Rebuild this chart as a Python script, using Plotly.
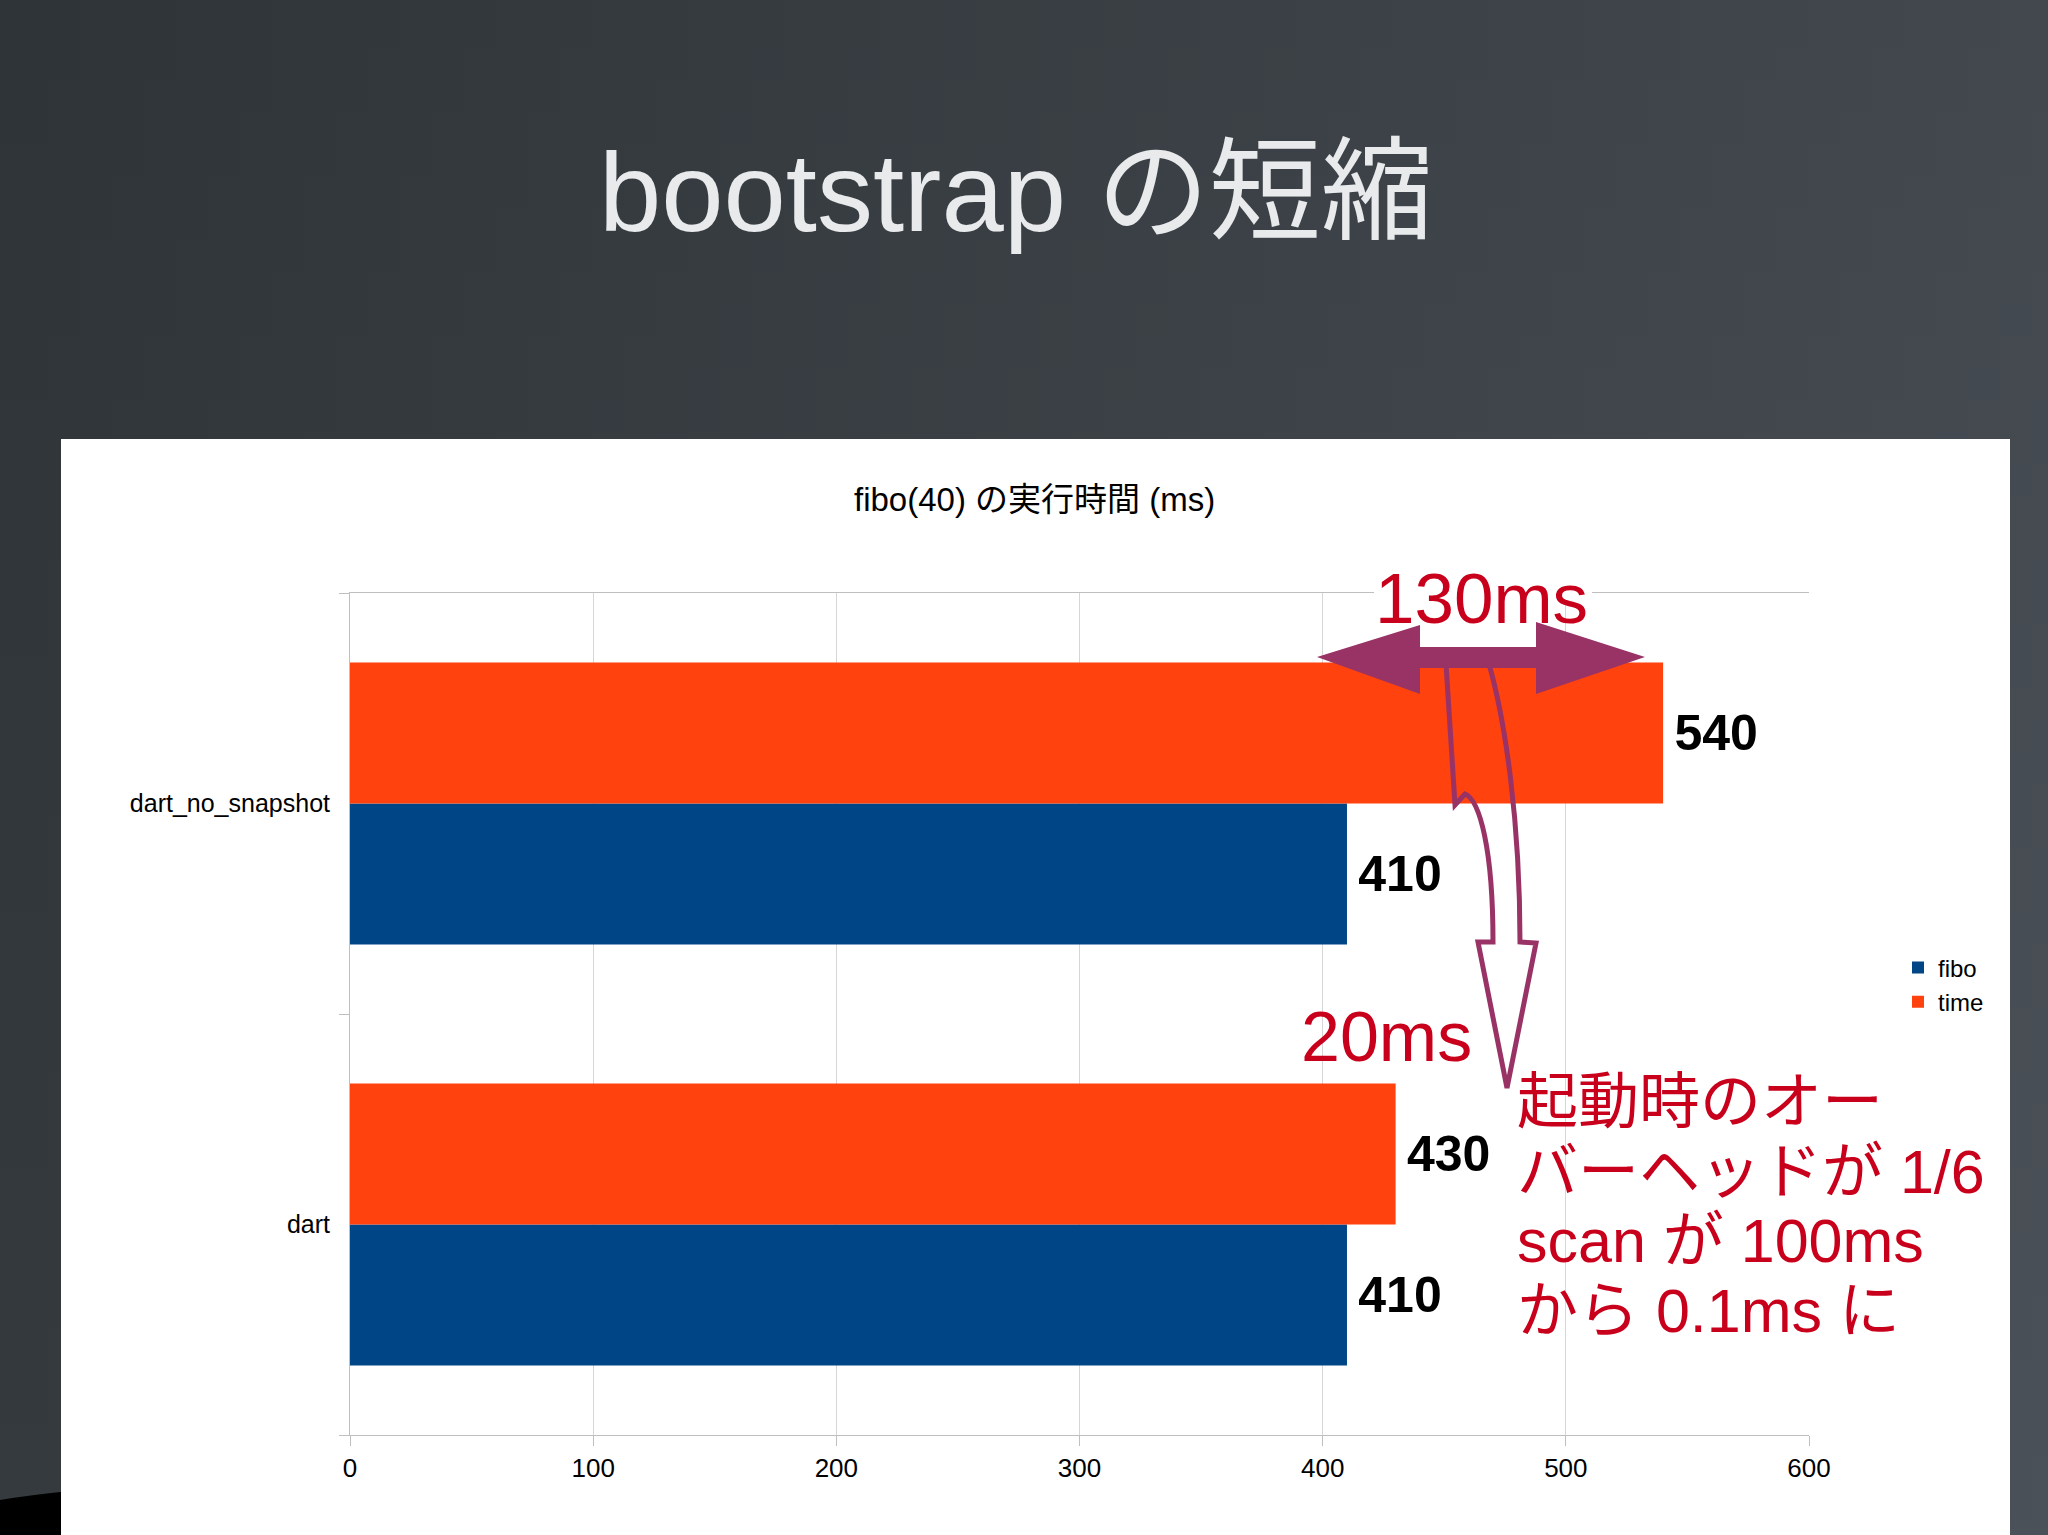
import base64
import struct
import zlib
import plotly.graph_objects as go

# ---------------- data ----------------
categories = ["dart", "dart_no_snapshot"]
fibo_values = [410, 410]
time_values = [430, 540]
x_tick_values = [0, 100, 200, 300, 400, 500, 600]

slide_title = "bootstrap の短縮"
chart_title = "fibo(40) の実行時間 (ms)"
note_130 = "130ms"
note_20 = "20ms"
note_lines = ["起動時のオー", "バーヘッドが 1/6", "scan が 100ms", "から 0.1ms に"]

# ---------------- geometry helpers ----------------
W, H = 2048, 1535
ML, MR, MT, MB = 350, 239, 593, 100
PW, PH = W - ML - MR, H - MT - MB


def px(x):
    return (x - ML) / PW


def py(y):
    return (H - MB - y) / PH


GROUP = {"M": 1, "L": 1, "Q": 2, "C": 3}


def path(points, close=True):
    s = ""
    for cmd, pts in points:
        n = GROUP[cmd]
        for k in range(0, len(pts), n):
            grp = pts[k:k + n]
            s += cmd + " " + " ".join(f"{px(a):.5f},{py(b):.5f}" for a, b in grp) + " "
    return s + ("Z" if close else "")


def gradient_png(w, h, tl, tr, bl, br):
    raw = bytearray()
    for j in range(h):
        fy = j / (h - 1)
        raw.append(0)
        for i in range(w):
            fx = i / (w - 1)
            for k in range(3):
                top = tl[k] * (1 - fx) + tr[k] * fx
                bot = bl[k] * (1 - fx) + br[k] * fx
                raw.append(int(round(top * (1 - fy) + bot * fy)))

    def chunk(t, d):
        return struct.pack(">I", len(d)) + t + d + struct.pack(">I", zlib.crc32(t + d) & 0xFFFFFFFF)

    png = (b"\x89PNG\r\n\x1a\n"
           + chunk(b"IHDR", struct.pack(">IIBBBBB", w, h, 8, 2, 0, 0, 0))
           + chunk(b"IDAT", zlib.compress(bytes(raw)))
           + chunk(b"IEND", b""))
    return "data:image/png;base64," + base64.b64encode(png).decode()


BLUE = "#004586"
ORANGE = "#ff420e"
RED = "#c9001c"
PURPLE = "#993366"
GRID = "#d6d6d6"
AXIS = "#bfbfbf"
FONT = "Liberation Sans, Arial, Noto Sans CJK JP, sans-serif"

fig = go.Figure()
for name, vals, color in (("fibo", fibo_values, BLUE), ("time", time_values, ORANGE)):
    fig.add_trace(go.Bar(
        name=name, y=categories, x=vals, orientation="h",
        marker=dict(color=color, line=dict(width=0)),
        text=vals, texttemplate="\u2006%{x}", textposition="outside",
        constraintext="none", cliponaxis=False,
        textfont=dict(family=FONT, size=50, color="black", weight="bold"),
        hoverinfo="x+y+name",
    ))

bg = gradient_png(64, 48, (0x2e, 0x34, 0x37), (0x42, 0x48, 0x4e), (0x34, 0x3a, 0x3e), (0x4b, 0x51, 0x58))

shapes = [
    # black corner bottom-left
    dict(type="path", xref="paper", yref="paper", layer="below",
         path=path([("M", [(0, 1500)]), ("Q", [(30, 1495), (70, 1491)]), ("L", [(70, 1540), (0, 1540)])]),
         fillcolor="black", line=dict(width=0)),
    # white chart panel
    dict(type="rect", xref="paper", yref="paper", layer="below",
         x0=px(61), x1=px(2010), y0=py(439), y1=py(1540),
         fillcolor="white", line=dict(width=0)),
    # mask behind 130ms text
    dict(type="rect", xref="paper", yref="paper", layer="above",
         x0=px(1374), x1=px(1592), y0=py(588), y1=py(600),
         fillcolor="white", line=dict(width=0)),
    # double headed arrow
    dict(type="path", xref="paper", yref="paper", layer="above",
         path=path([("M", [(1317, 657)]),
                    ("L", [(1420, 625), (1420, 647), (1536, 647), (1536, 622), (1645, 657),
                           (1536, 694), (1536, 668), (1420, 668), (1420, 694)])]),
         fillcolor=PURPLE, line=dict(width=0)),
    # curved outline arrow
    dict(type="path", xref="paper", yref="paper", layer="above",
         path=path([("M", [(1446, 664)]),
                    ("L", [(1455, 805), (1465, 794)]),
                    ("C", [(1480, 800), (1493, 850), (1493, 942)]),
                    ("L", [(1478, 942), (1507, 1088), (1536, 943), (1520, 942)]),
                    ("C", [(1520, 820), (1505, 720), (1489, 664)])]),
         fillcolor="rgba(0,0,0,0)", line=dict(color=PURPLE, width=5)),
]

annotations = [
    dict(text=slide_title, xref="paper", yref="paper", x=px(1016), y=py(192),
         xanchor="center", yanchor="middle", showarrow=False,
         font=dict(family=FONT, size=112, color="#e8eaec")),
    dict(text=chart_title, xref="paper", yref="paper", x=px(1034), y=py(499),
         xanchor="center", yanchor="middle", showarrow=False,
         font=dict(family=FONT, size=33, color="black")),
    dict(text=note_130, xref="paper", yref="paper", x=px(1481), y=py(598),
         xanchor="center", yanchor="middle", showarrow=False,
         font=dict(family=FONT, size=71, color=RED)),
    dict(text=note_20, xref="paper", yref="paper", x=px(1386), y=py(1037),
         xanchor="center", yanchor="middle", showarrow=False,
         font=dict(family=FONT, size=70, color=RED)),
]
for i, line in enumerate(note_lines):
    annotations.append(dict(text=line, xref="paper", yref="paper", x=px(1515), y=py(1102 + 69.5 * i),
                            xanchor="left", yanchor="middle", showarrow=False,
                            font=dict(family=FONT, size=61, color=RED)))

fig.update_layout(
    width=W, height=H,
    margin=dict(l=ML, r=MR, t=MT, b=MB, pad=0),
    paper_bgcolor="#3c4246",
    plot_bgcolor="white",
    barmode="group", bargap=0.33, bargroupgap=0,
    showlegend=True,
    legend=dict(x=px(1898), y=py(985), xanchor="left", yanchor="middle",
                traceorder="normal", bgcolor="rgba(0,0,0,0)",
                font=dict(family=FONT, size=24, color="black")),
    font=dict(family=FONT, color="black"),
    shapes=shapes,
    annotations=annotations,
    images=[dict(source=bg, xref="paper", yref="paper", x=px(0), y=py(0),
                 sizex=W / PW, sizey=H / PH, xanchor="left", yanchor="top",
                 sizing="stretch", layer="below")],
)
fig.update_xaxes(range=[0, 600], tickvals=x_tick_values, showgrid=True, gridcolor=GRID, gridwidth=1,
                 zeroline=False, showline=True, linecolor=AXIS, linewidth=1, mirror=True,
                 ticks="outside", ticklen=10, tickcolor=AXIS,
                 tickfont=dict(family=FONT, size=26, color="black"))
fig.update_yaxes(type="category", categoryorder="array", categoryarray=categories,
                 showgrid=False, zeroline=False, showline=True, linecolor=AXIS, linewidth=1,
                 ticks="outside", tickson="boundaries", ticklen=10, tickcolor=AXIS,
                 ticklabelstandoff=14,
                 tickfont=dict(family=FONT, size=25, color="black"))

fig.write_html("out.html", config={"displayModeBar": False},
               post_script="document.body.style.margin='0';document.body.style.overflow='hidden';")
